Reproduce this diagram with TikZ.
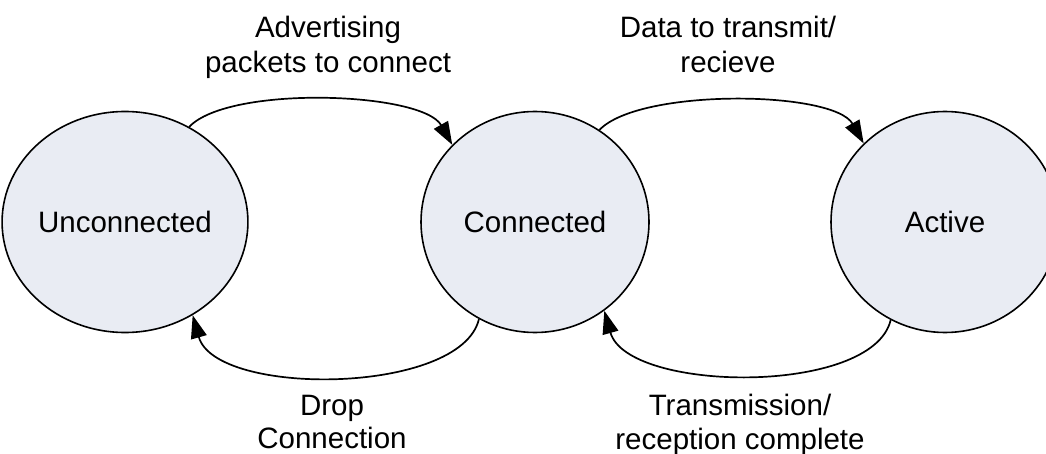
\documentclass[tikz,border=0pt]{standalone}
\usepackage{fontspec}
\setmainfont{Liberation Sans}
\usetikzlibrary{arrows.meta,shapes.geometric,calc}
\definecolor{statefill}{RGB}{233,236,243}
\begin{document}
\begin{tikzpicture}[x=1pt,y=-1pt,
  state/.style={ellipse,draw=black,line width=1.6pt,fill=statefill,
    minimum width=228pt,minimum height=221pt,inner sep=0pt,
    font=\fontsize{29.5}{34.5}\selectfont},
  label/.style={anchor=base,inner sep=0pt,font=\fontsize{29.5}{34.5}\selectfont},
  trans/.style={line width=1.7pt,-{Triangle[length=23pt,width=16pt]}}]
\useasboundingbox (0,0) rectangle (1046,454);
\clip (0,0) rectangle (1046,454);

% states
\node[state] (u) at (125,222) {Unconnected};
\node[state] (c) at (535,222) {Connected};
\node[state] (a) at (945,222) {Active};

% forward transitions (over the top)
\draw[trans] (u.56) .. controls ($(u.56)+(40,-42)$) and ($(c.137)+(-30,-53)$) .. (c.137);
\draw[trans] (c.55) .. controls ($(c.55)+(40,-42)$) and ($(a.136)+(-30,-53)$) .. (a.136);

% backward transitions (underneath)
\draw[trans] (c.240) .. controls ($(c.240)+(-18,76)$) and ($(u.306)+(23,82)$) .. (u.306);
\draw[trans] (a.241) .. controls ($(a.241)+(-18,76)$) and ($(c.308)+(23,82)$) .. (c.308);

% transition labels
\node[label] (t1a) at (328,38) {Advertising};
\node[label] (t1b) at (328,73) {packets to connect};
\node[label] (t2a) at (728,38) {Data to transmit/};
\node[label] (t2b) at (728,73) {recieve};
\node[label] (t3a) at (332,415) {Drop};
\node[label] (t3b) at (332,448) {Connection};
\node[label] (t4a) at (740,415) {Transmission/};
\node[label] (t4b) at (740,449) {reception complete};
\end{tikzpicture}
\end{document}
